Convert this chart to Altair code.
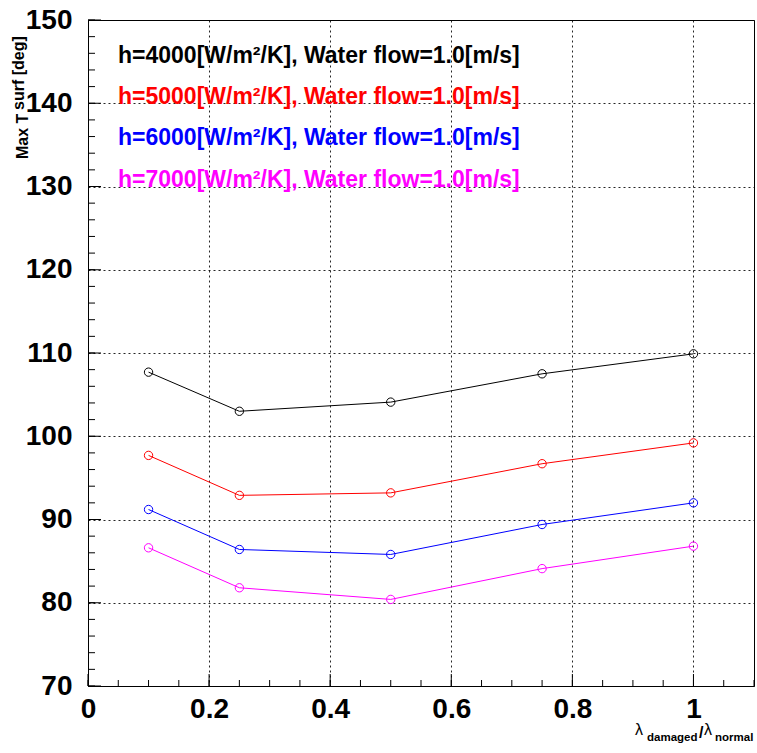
import altair as alt
import pandas as pd

# ---- data ----
ratios = [0.1, 0.25, 0.5, 0.75, 1.0]
t_h4000 = [107.7, 103.0, 104.1, 107.5, 109.9]
t_h5000 = [97.7, 92.9, 93.2, 96.7, 99.2]
t_h6000 = [91.2, 86.4, 85.8, 89.4, 92.0]
t_h7000 = [86.6, 81.8, 80.4, 84.1, 86.8]

series_labels = [
    "h=4000[W/m²/K], Water flow=1.0[m/s]",
    "h=5000[W/m²/K], Water flow=1.0[m/s]",
    "h=6000[W/m²/K], Water flow=1.0[m/s]",
    "h=7000[W/m²/K], Water flow=1.0[m/s]",
]
series_colors = ["#000000", "#ff0000", "#0000ff", "#ff00ff"]

x_ticks = [0, 0.2, 0.4, 0.6, 0.8, 1.0]
x_minor_ticks = [round(i * 0.05, 2) for i in range(0, 23)]
y_ticks = [70, 80, 90, 100, 110, 120, 130, 140, 150]
y_minor_ticks = list(range(70, 151, 2))

FONT = "Liberation Sans"
W, H = 666, 666

rows = []
for lab, vals in zip(series_labels, [t_h4000, t_h5000, t_h6000, t_h7000]):
    for r, v in zip(ratios, vals):
        rows.append({"series": lab, "ratio": r, "T": v})
df = pd.DataFrame(rows)

xscale = alt.Scale(domain=[0, 1.1], nice=False, zero=False)
yscale = alt.Scale(domain=[70, 150], nice=False, zero=False)

xaxis = alt.Axis(values=x_ticks, format="~g", title=None, grid=True,
                 gridDash=[2, 3], gridColor="black", gridOpacity=0.85,
                 ticks=False, domain=False, labelFont=FONT, labelFontSize=28,
                 labelFontWeight="bold", labelColor="black", labelPadding=9,
                 labelFlush=False, labelOverlap=False, labelBaseline="top",
                 labelAlign="center")
yaxis = alt.Axis(values=y_ticks, format="d", title=None, grid=True,
                 gridDash=[2, 3], gridColor="black", gridOpacity=0.85,
                 ticks=False, domain=False, labelFont=FONT, labelFontSize=28,
                 labelFontWeight="bold", labelColor="black", labelPadding=16,
                 labelFlush=False, labelOverlap=False, labelBaseline="middle",
                 labelAlign="right")


def X(field):
    return alt.X(field, type="quantitative", scale=xscale, axis=xaxis)


def Y(field):
    return alt.Y(field, type="quantitative", scale=yscale, axis=yaxis)


color = alt.Color("series:N", scale=alt.Scale(domain=series_labels, range=series_colors),
                  legend=None)

# ticks inside the frame
ymaj = alt.Chart(pd.DataFrame({"v": y_ticks})).mark_rule(color="black", strokeWidth=1).encode(
    y=Y("v"), x=alt.value(0), x2=alt.value(13))
ymin = alt.Chart(pd.DataFrame({"v": y_minor_ticks})).mark_rule(color="black", strokeWidth=1).encode(
    y=Y("v"), x=alt.value(0), x2=alt.value(7))
xmaj = alt.Chart(pd.DataFrame({"v": x_ticks})).mark_rule(color="black", strokeWidth=1).encode(
    x=X("v"), y=alt.value(H), y2=alt.value(H - 12))
xmin = alt.Chart(pd.DataFrame({"v": x_minor_ticks})).mark_rule(color="black", strokeWidth=1).encode(
    x=X("v"), y=alt.value(H), y2=alt.value(H - 6))

lines = alt.Chart(df).mark_line(strokeWidth=1).encode(
    x=X("ratio"), y=Y("T"), color=color, detail="series:N")
points = alt.Chart(df).mark_point(shape="circle", filled=False, size=70, strokeWidth=1,
                                  opacity=1).encode(
    x=X("ratio"), y=Y("T"), color=color)

layers = [ymin, ymaj, xmin, xmaj, lines, points]

# legend text (coloured lines of text)
legend_baselines = [43, 84, 125, 167]
for lab, col, yb in zip(series_labels, series_colors, legend_baselines):
    layers.append(
        alt.Chart(pd.DataFrame({"t": [lab]})).mark_text(
            font=FONT, fontSize=23, fontWeight="bold", color=col,
            align="left", baseline="alphabetic").encode(
            text="t:N", x=alt.value(30), y=alt.value(yb)))

# y-axis title (rotated, with offset part)
layers.append(alt.Chart(pd.DataFrame({"t": ["Max T"]})).mark_text(
    font=FONT, fontSize=16, fontWeight="bold", color="black", angle=270,
    align="left", baseline="alphabetic").encode(text="t:N", x=alt.value(-60), y=alt.value(139)))
layers.append(alt.Chart(pd.DataFrame({"t": ["surf [deg]"]})).mark_text(
    font=FONT, fontSize=16, fontWeight="bold", color="black", angle=270,
    align="left", baseline="alphabetic").encode(text="t:N", x=alt.value(-64), y=alt.value(90)))

# x-axis title  λ_damaged / λ_normal
xt_parts = [
    ("λ", 547, 715, 16, "normal"),
    ("damaged", 559, 721, 11.5, "bold"),
    ("/", 611, 718, 16, "bold"),
    ("λ", 616, 715, 16, "normal"),
    ("normal", 627, 721, 11.5, "bold"),
]
for t, xp, yp, fs, fw in xt_parts:
    layers.append(alt.Chart(pd.DataFrame({"t": [t]})).mark_text(
        font=FONT, fontSize=fs, fontWeight=fw, color="black",
        align="left", baseline="alphabetic").encode(text="t:N", x=alt.value(xp), y=alt.value(yp)))

chart = alt.layer(*layers).properties(
    width=W, height=H,
    autosize=alt.AutoSizeParams(type="none"),
    padding={"left": 88, "top": 20, "right": 3, "bottom": 67},
    background="white",
).configure_view(stroke="black", strokeWidth=1, fill="white")

chart.save("out.html", embed_options={"renderer": "svg", "actions": False})
